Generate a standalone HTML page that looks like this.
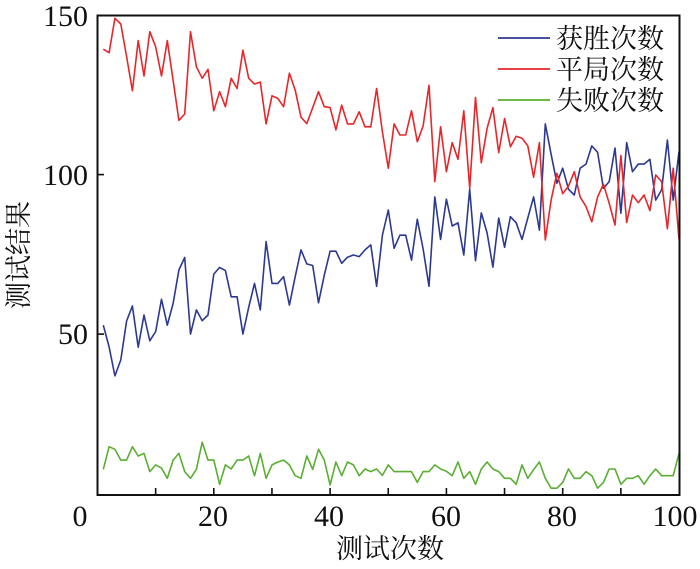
<!DOCTYPE html>
<html><head><meta charset="utf-8"><style>
html,body{margin:0;padding:0;background:#fff;}
svg{display:block;}
text{font-family:"Liberation Serif","Noto Serif CJK SC","Noto Sans CJK SC",serif;fill:#111;}
</style></head><body>
<svg id="s" width="700" height="569" viewBox="0 0 700 569" xmlns="http://www.w3.org/2000/svg">
<g id="lines" fill="none" stroke-width="1.6" stroke-linejoin="round"></g>
<rect x="97.5" y="15.5" width="582" height="479.5" fill="none" stroke="#111" stroke-width="2"/>
<g id="ticks" stroke="#111" stroke-width="1.6"></g>
<g font-size="30">
<text x="88" y="26" text-anchor="end">150</text>
<text x="88" y="185" text-anchor="end">100</text>
<text x="88" y="344" text-anchor="end">50</text>
<text x="80" y="526" text-anchor="middle">0</text>
<text x="213" y="526" text-anchor="middle">20</text>
<text x="329" y="526" text-anchor="middle">40</text>
<text x="446" y="526" text-anchor="middle">60</text>
<text x="562" y="526" text-anchor="middle">80</text>
<text x="675" y="526" text-anchor="middle">100</text>
</g>
<text x="390" y="558" font-size="27" text-anchor="middle">测试次数</text>
<text transform="translate(28,255) rotate(-90)" font-size="27" text-anchor="middle">测试结果</text>
<g font-size="27">
<line x1="498" y1="38" x2="550" y2="38" stroke="#2b3990" stroke-width="1.8"/>
<line x1="498" y1="69" x2="550" y2="69" stroke="#e8262a" stroke-width="1.8"/>
<line x1="498" y1="100" x2="550" y2="100" stroke="#5aae32" stroke-width="1.8"/>
<text x="556" y="48">获胜次数</text>
<text x="556" y="79">平局次数</text>
<text x="556" y="110">失败次数</text>
</g>
</svg>
<script>
var R=[139.3,138.2,149,147.2,137,126.3,142,130.9,144.8,140,130.9,142,129.6,117,119,144.8,133.8,130.2,133,120,126,121.3,130.2,127,139,130.2,128.4,129,115.9,124.7,123.9,121.3,131.8,126.5,118,116,121,126,121.3,121,114,121.8,115.9,115.9,119.7,115,115,127,113.4,102,115.9,112.4,112.4,120,110.3,115.2,128,97.8,115,100.9,110,104.8,120,95.7,124.2,103.7,114.5,121,106.9,117.6,108.7,112,111.4,109,99.2,110,79.5,92,100.4,94,96.4,100.9,93,90,85.2,93,97,91,84.2,106,85,93.6,91.2,93.6,88.7,99.9,97.8,83,102,79.7];
var B=[52.8,46,36.9,41.9,54.1,58.8,45.9,56,47.9,50.8,60.9,52.8,59.6,70.1,74,50,57.6,54.2,56,68.8,70.9,69.9,61.7,61.7,50,58.4,65.9,57.6,79,65.9,65.9,68,59.1,68,76.4,72,71.5,59.8,68.5,76,76,72.2,74.1,74.8,74.3,76.4,78,65,81,88.9,76.9,81,81,73.2,86,76.7,65,93,79.7,92.3,83.9,84.9,74.8,95.4,73,88,81.7,71,86.4,77.2,86.8,84.9,79.7,86.4,93,82.6,115.9,106.4,97.3,102,95.4,93.6,102,103.3,109,107,95.7,97.8,108.3,87.9,110,100.9,103.3,103.3,104.8,92,95.2,110.8,92,107.2];
var G=[7.6,14.7,13.9,10.5,10.5,14.7,11.8,12.6,6.9,9,8,4.8,10.5,12.6,6.9,4.8,7.6,16.1,10.5,10.5,2.9,9,7.7,10.5,10.5,11.8,5.6,12.6,4.8,9,9.9,10.5,9,5.6,4.8,11.8,7.6,13.9,10.5,2.7,9.9,5.6,9.9,9,5.6,7.7,6.9,7.7,5.7,9,6.9,6.9,6.9,6.9,3.5,6.9,6.9,9,7.7,7,5.6,9.9,4.8,6.9,2.9,7.7,9.9,7.7,6.9,4.8,4.8,2.9,9,4.8,7.5,9.9,4.8,1.7,1.7,3.5,7.7,4.8,4.8,6.9,5.6,1.7,3.5,7.7,7.7,2.9,4.8,4.8,5.6,2.9,5.6,7.7,5.6,5.6,5.6,12.6];
function X(n){return 97.5+5.815*n;}function Y(v){return 493.6-3.19*v;}
var ns="http://www.w3.org/2000/svg",g=document.getElementById('lines');
[[B,'#2b3990'],[R,'#e8262a'],[G,'#5aae32']].forEach(function(s){var p=document.createElementNS(ns,'polyline');
p.setAttribute('points',s[0].map(function(v,i){return X(i+1).toFixed(1)+','+Y(v).toFixed(1)}).join(' '));
p.setAttribute('stroke',s[1]);g.appendChild(p);});
var t=document.getElementById('ticks');
for(var i=10;i<100;i+=10){var l=document.createElementNS(ns,'line');l.setAttribute('x1',X(i));l.setAttribute('x2',X(i));l.setAttribute('y1',495);l.setAttribute('y2',488);t.appendChild(l);}
[50,100].forEach(function(v){var l=document.createElementNS(ns,'line');l.setAttribute('x1',97.5);l.setAttribute('x2',104);l.setAttribute('y1',Y(v));l.setAttribute('y2',Y(v));t.appendChild(l);});
</script>
</body></html>
